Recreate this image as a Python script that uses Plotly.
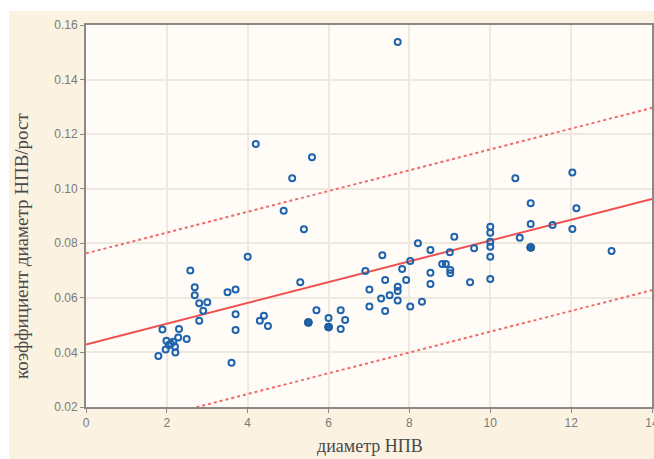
import plotly.graph_objects as go

# ---- data ----
diam = [1.79, 1.89, 1.97, 1.99, 2.05, 2.10, 2.16, 2.20, 2.21, 2.28, 2.30, 2.49,
        2.58, 2.69, 2.69, 2.80, 3.00, 2.90, 2.80,
        3.50, 3.70, 3.70, 3.70, 3.60, 4.00,
        4.30, 4.40, 4.50,
        4.20, 4.89, 5.10, 5.39, 5.59,
        5.30, 5.70, 6.30, 6.00, 6.41, 6.30,
        6.91, 7.33, 7.01, 7.01, 7.40, 7.30, 7.51, 7.40, 7.71, 7.71, 7.71, 7.82, 7.92,
        8.02, 8.02, 8.21, 8.31, 8.52, 8.52, 8.52,
        7.71,
        8.81, 8.90, 9.00, 9.01, 9.01, 9.11, 9.50, 9.60,
        10.0, 10.0, 10.0, 10.0, 10.0, 10.0,
        10.62, 10.73, 11.0, 11.0, 11.54, 12.03, 12.13, 12.03, 13.0]
coef = [0.0387, 0.0484, 0.0411, 0.0443, 0.0427, 0.0432, 0.0439, 0.0421, 0.0400, 0.0455, 0.0486, 0.0449,
        0.0700, 0.0639, 0.0610, 0.0580, 0.0584, 0.0553, 0.0516,
        0.0621, 0.0631, 0.0540, 0.0482, 0.0362, 0.0751,
        0.0516, 0.0534, 0.0497,
        0.1164, 0.0919, 0.1038, 0.0851, 0.1115,
        0.0657, 0.0555, 0.0555, 0.0526, 0.0519, 0.0486,
        0.0698, 0.0756, 0.0631, 0.0568, 0.0665, 0.0598, 0.0610, 0.0552, 0.0641, 0.0625, 0.0590, 0.0706, 0.0665,
        0.0735, 0.0568, 0.0800, 0.0586, 0.0775, 0.0692, 0.0651,
        0.1538,
        0.0724, 0.0724, 0.0767, 0.0702, 0.0690, 0.0824, 0.0657, 0.0782,
        0.0861, 0.0839, 0.0806, 0.0787, 0.0751, 0.0669,
        0.1038, 0.0820, 0.0947, 0.0871, 0.0867, 0.1059, 0.0928, 0.0852, 0.0772]

# overlapping (filled-looking) points
diam_dup = [5.50, 6.00, 11.0]
coef_dup = [0.0510, 0.0493, 0.0785]

# regression fit and prediction band
fit_intercept = 0.0429
fit_slope = 0.00381
band_half = 0.0334
fit_x = [0, 14]

x_ticks = [0, 2, 4, 6, 8, 10, 12, 14]
y_ticks = [0.02, 0.04, 0.06, 0.08, 0.10, 0.12, 0.14, 0.16]

fit_y = [fit_intercept + fit_slope * v for v in fit_x]
up_y = [v + band_half for v in fit_y]
lo_y = [v - band_half for v in fit_y]

red = "#f0504f"
blue = "#1f63ad"

fig = go.Figure()
fig.add_trace(go.Scatter(x=fit_x, y=up_y, mode="lines",
                         line=dict(color="#f06a6a", width=2, dash="dot"), hoverinfo="skip"))
fig.add_trace(go.Scatter(x=fit_x, y=lo_y, mode="lines",
                         line=dict(color="#f06a6a", width=2, dash="dot"), hoverinfo="skip"))
fig.add_trace(go.Scatter(x=fit_x, y=fit_y, mode="lines",
                         line=dict(color=red, width=2), hoverinfo="skip"))
fig.add_trace(go.Scatter(x=diam, y=coef, mode="markers",
                         marker=dict(symbol="circle-open", size=6, color=blue,
                                     line=dict(width=2, color=blue))))
fig.add_trace(go.Scatter(x=diam_dup, y=coef_dup, mode="markers",
                         marker=dict(symbol="circle", size=8, color=blue,
                                     line=dict(width=1, color="#174f8c"))))

W, H = 654, 459
L, R, T, B = 86, 2, 25, 52
pw, ph = W - L - R, H - T - B

def px_x(p):  # screen pixel -> paper
    return (p - L) / pw

def px_y(p):
    return (H - B - p) / ph

# white strips outside the cream panel (left and top)
fig.add_shape(type="rect", xref="paper", yref="paper",
              x0=px_x(-5), x1=px_x(9), y0=px_y(470), y1=px_y(-5),
              fillcolor="white", line=dict(width=0), layer="below")
fig.add_shape(type="rect", xref="paper", yref="paper",
              x0=px_x(-5), x1=px_x(660), y0=px_y(11), y1=px_y(-5),
              fillcolor="white", line=dict(width=0), layer="below")

axis_common = dict(showgrid=True, gridcolor="#eee8de", gridwidth=2,
                   showline=True, linecolor="#8c8a86", linewidth=2, mirror=True,
                   ticks="outside", ticklen=4, tickcolor="#8c8a86",
                   tickfont=dict(family="Liberation Sans, Arial, sans-serif", size=12, color="#7a7a7a"),
                   zeroline=False, automargin=False, ticklabeloverflow="allow")

fig.update_layout(
    width=W, height=H,
    margin=dict(l=L, r=R, t=T, b=B),
    paper_bgcolor="#fbf2e1",
    plot_bgcolor="#fffcf7",
    showlegend=False,
    xaxis=dict(range=[0, 14], tickvals=x_ticks, ticktext=[str(v) for v in x_ticks], **axis_common),
    yaxis=dict(range=[0.02, 0.16], tickvals=y_ticks, ticktext=["%.2f" % v for v in y_ticks], **axis_common),
    annotations=[
        dict(text="диаметр НПВ", xref="paper", yref="paper", x=px_x(370), y=px_y(446),
             showarrow=False, xanchor="center", yanchor="middle",
             font=dict(family="Liberation Serif, Times New Roman, serif", size=18, color="#4a4a4a")),
        dict(text="коэффициент диаметр НПВ/рост", xref="paper", yref="paper", x=px_x(21), y=px_y(246),
             showarrow=False, xanchor="center", yanchor="middle", textangle=-90,
             font=dict(family="Liberation Serif, Times New Roman, serif", size=19, color="#4a4a4a")),
    ],
)

fig.write_html("out.html", config={"displayModeBar": False},
               post_script="document.body.style.margin='0';"
                           "document.documentElement.style.overflow='hidden';"
                           "document.body.style.overflow='hidden';")
